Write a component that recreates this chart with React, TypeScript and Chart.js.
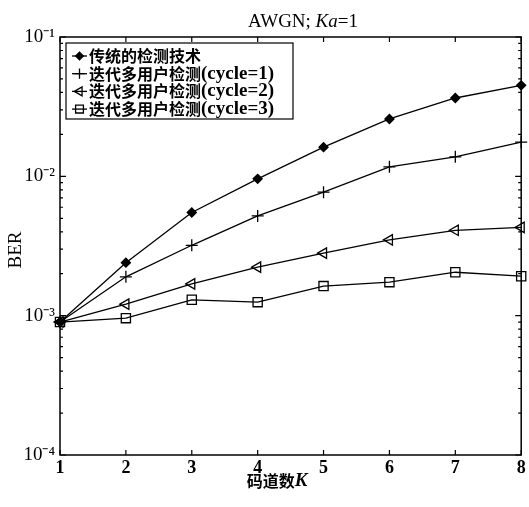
import React, { useEffect, useRef } from 'react';
import { Chart, registerables } from 'chart.js';
import { drawPoint } from 'chart.js/helpers';

Chart.register(...registerables);

// ---------- data ----------
const codeChannels = [1, 2, 3, 4, 5, 6, 7, 8];
const conventional = [9.0e-4, 2.4e-3, 5.5e-3, 9.6e-3, 1.62e-2, 2.58e-2, 3.65e-2, 4.5e-2];
const cycle1 = [9.0e-4, 1.9e-3, 3.2e-3, 5.2e-3, 7.7e-3, 1.17e-2, 1.38e-2, 1.76e-2];
const cycle2 = [9.0e-4, 1.21e-3, 1.69e-3, 2.23e-3, 2.81e-3, 3.5e-3, 4.1e-3, 4.3e-3];
const cycle3 = [9.0e-4, 9.6e-4, 1.3e-3, 1.25e-3, 1.63e-3, 1.74e-3, 2.05e-3, 1.92e-3];

const seriesNames = ['传统的检测技术', '迭代多用户检测', '迭代多用户检测', '迭代多用户检测'];
const seriesSuffix = ['', '(cycle=1)', '(cycle=2)', '(cycle=3)'];

const yTickValues = [1e-4, 1e-3, 1e-2, 1e-1];
const yTickLabels = ['10⁻⁴', '10⁻³', '10⁻²', '10⁻¹'];
const xTickValues = [1, 2, 3, 4, 5, 6, 7, 8];

const SERIF = "'Liberation Serif', 'Times New Roman', serif";
const CJK = "'Noto Sans CJK SC', sans-serif";

const markerStyles = [
  { pointStyle: 'rectRot', radius: 4.5, rotation: 0, fill: '#000' },
  { pointStyle: 'cross', radius: 6, rotation: 0, fill: 'rgba(0,0,0,0)' },
  { pointStyle: 'triangle', radius: 6, rotation: -90, fill: 'rgba(0,0,0,0)' },
  { pointStyle: 'rect', radius: 6.5, rotation: 0, fill: 'rgba(0,0,0,0)' },
];

type Seg = { text: string; font: string };

function drawRich(ctx: CanvasRenderingContext2D, segs: Seg[], x: number, y: number, align: 'center' | 'left') {
  let total = 0;
  for (const s of segs) {
    ctx.font = s.font;
    total += ctx.measureText(s.text).width;
  }
  let cx = align === 'center' ? x - total / 2 : x;
  ctx.textBaseline = 'middle';
  ctx.textAlign = 'left';
  for (const s of segs) {
    ctx.font = s.font;
    ctx.fillText(s.text, cx, y);
    cx += ctx.measureText(s.text).width;
  }
}

const decorPlugin = {
  id: 'decor',
  afterDraw(chart: any) {
    const ctx: CanvasRenderingContext2D = chart.ctx;
    const { left, right, top, bottom } = chart.chartArea;
    const xs = chart.scales.x;
    const ys = chart.scales.y;
    ctx.save();
    ctx.strokeStyle = '#000';
    ctx.fillStyle = '#000';
    ctx.lineWidth = 1.5;
    // frame
    ctx.strokeRect(left, top, right - left, bottom - top);
    // x ticks (inward)
    ctx.lineWidth = 1.2;
    ctx.beginPath();
    for (const v of xTickValues) {
      const px = xs.getPixelForValue(v);
      ctx.moveTo(px, bottom); ctx.lineTo(px, bottom - 5);
      ctx.moveTo(px, top); ctx.lineTo(px, top + 5);
    }
    // y ticks major + minor
    for (let i = 0; i < yTickValues.length; i++) {
      const d = yTickValues[i];
      const py = ys.getPixelForValue(d);
      ctx.moveTo(left, py); ctx.lineTo(left + 6, py);
      ctx.moveTo(right, py); ctx.lineTo(right - 6, py);
      if (i < yTickValues.length - 1) {
        for (let m = 2; m <= 9; m++) {
          const pm = ys.getPixelForValue(d * m);
          ctx.moveTo(left, pm); ctx.lineTo(left + 3, pm);
          ctx.moveTo(right, pm); ctx.lineTo(right - 3, pm);
        }
      }
    }
    ctx.stroke();

    // title
    drawRich(ctx, [
      { text: 'AWGN; ', font: `19px ${SERIF}` },
      { text: 'Ka', font: `italic 19px ${SERIF}` },
      { text: '=1', font: `19px ${SERIF}` },
    ], 303, 22, 'center');

    // x title
    drawRich(ctx, [
      { text: '码道数', font: `bold 16px ${CJK}` },
      { text: 'K', font: `italic bold 19px ${SERIF}` },
    ], 277, 481, 'center');

    // y title
    ctx.save();
    ctx.translate(16, (top + bottom) / 2 + 4);
    ctx.rotate(-Math.PI / 2);
    drawRich(ctx, [{ text: 'BER', font: `19px ${SERIF}` }], 0, 0, 'center');
    ctx.restore();

    // legend
    const bx = left + 6, by = top + 6, bw = 227, bh = 76;
    ctx.fillStyle = '#fff';
    ctx.fillRect(bx, by, bw, bh);
    ctx.strokeStyle = '#000';
    ctx.lineWidth = 1.2;
    ctx.strokeRect(bx, by, bw, bh);
    for (let i = 0; i < 4; i++) {
      const ry = by + 13 + i * 17.7;
      ctx.strokeStyle = '#000';
      ctx.lineWidth = 1.3;
      ctx.beginPath();
      ctx.moveTo(bx + 6, ry); ctx.lineTo(bx + 21, ry);
      ctx.stroke();
      const ms = markerStyles[i];
      ctx.fillStyle = ms.fill;
      ctx.strokeStyle = '#000';
      ctx.lineWidth = 1.3;
      drawPoint(ctx, { pointStyle: ms.pointStyle as any, radius: ms.radius * 0.85, rotation: ms.rotation, borderWidth: 1.3 }, bx + 13.5, ry);
      ctx.fillStyle = '#000';
      const segs: Seg[] = [{ text: seriesNames[i], font: `bold 16px ${CJK}` }];
      if (seriesSuffix[i]) segs.push({ text: seriesSuffix[i], font: `bold 19px ${SERIF}` });
      drawRich(ctx, segs, bx + 23, ry, 'left');
    }
    ctx.restore();
  },
};

function makeDataset(label: string, values: number[], idx: number) {
  const ms = markerStyles[idx];
  return {
    label,
    data: codeChannels.map((k, i) => ({ x: k, y: values[i] })),
    borderColor: '#000',
    borderWidth: 1.3,
    backgroundColor: ms.fill,
    pointStyle: ms.pointStyle,
    pointRadius: ms.radius,
    pointRotation: ms.rotation,
    pointBorderColor: '#000',
    pointBackgroundColor: ms.fill,
    pointBorderWidth: 1.3,
    tension: 0,
    fill: false,
    clip: false,
  };
}

export default function App() {
  const ref = useRef<HTMLCanvasElement | null>(null);
  useEffect(() => {
    if (!ref.current) return;
    const chart = new Chart(ref.current, {
      type: 'line',
      data: {
        datasets: [
          makeDataset(seriesNames[0] + seriesSuffix[0], conventional, 0),
          makeDataset(seriesNames[1] + seriesSuffix[1], cycle1, 1),
          makeDataset(seriesNames[2] + seriesSuffix[2], cycle2, 2),
          makeDataset(seriesNames[3] + seriesSuffix[3], cycle3, 3),
        ] as any,
      },
      options: {
        responsive: false,
        animation: false,
        devicePixelRatio: 1,
        layout: { padding: { top: 37, right: 2, left: 0, bottom: 0 } },
        plugins: { legend: { display: false }, title: { display: false }, tooltip: { enabled: false } },
        scales: {
          x: {
            type: 'linear',
            min: 1,
            max: 8,
            grid: { display: false, drawTicks: false },
            border: { display: false },
            afterBuildTicks: (s: any) => { s.ticks = xTickValues.map((v) => ({ value: v })); },
            afterFit: (s: any) => { s.height = 52; s.paddingLeft = 0; s.paddingRight = 0; },
            ticks: {
              color: '#000',
              padding: 3,
              maxRotation: 0,
              autoSkip: false,
              font: { family: SERIF, size: 18, weight: 'bold' },
              callback: (v: any) => String(v),
            },
          },
          y: {
            type: 'logarithmic',
            min: 1e-4,
            max: 1e-1,
            grid: { display: false, drawTicks: false },
            border: { display: false },
            afterBuildTicks: (s: any) => { s.ticks = yTickValues.map((v) => ({ value: v })); },
            afterFit: (s: any) => { s.width = 60; s.paddingTop = 0; s.paddingBottom = 0; },
            ticks: {
              color: '#000',
              padding: 5,
              autoSkip: false,
              font: { family: SERIF, size: 19 },
              callback: (v: any) => {
                const i = yTickValues.findIndex((t) => Math.abs(t - v) / t < 1e-6);
                return i >= 0 ? yTickLabels[i] : '';
              },
            },
          },
        },
      } as any,
      plugins: [decorPlugin],
    });
    return () => chart.destroy();
  }, []);
  return (
    <div style={{ position: 'fixed', left: 0, top: 0, width: 529, height: 507, background: '#fff' }}>
      <canvas ref={ref} width={529} height={507} style={{ width: 529, height: 507, display: 'block' }} />
    </div>
  );
}
